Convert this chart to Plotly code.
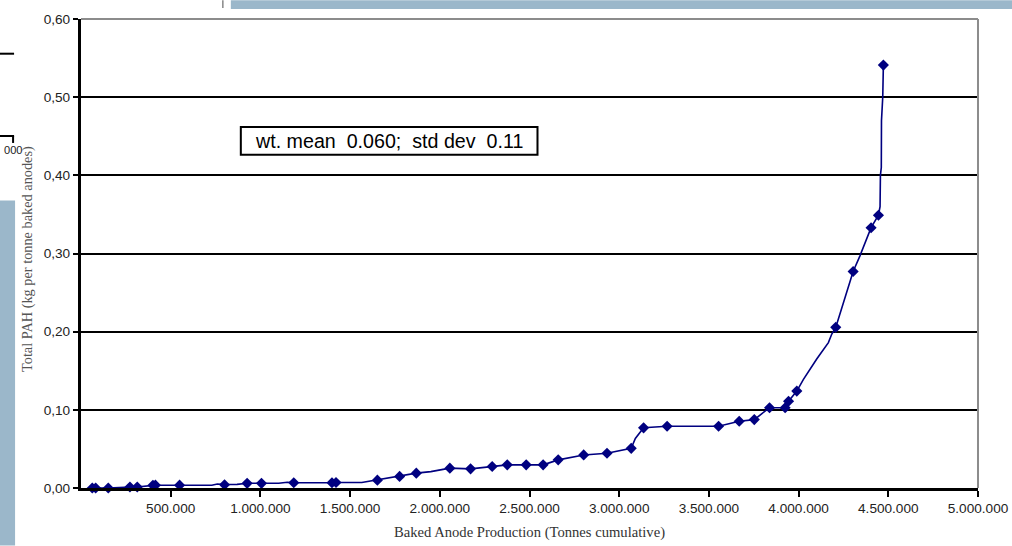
import plotly.graph_objects as go

# Cumulative baked anode production (tonnes) and total PAH (kg / tonne baked anodes)
# Measured plant values, shown as markers
prod_points = [62900, 81800, 152000, 272800, 313500, 400900, 414800, 549500,
               800100, 926000, 1006000, 1186000, 1399000, 1421500, 1652000,
               1776000, 1869000, 2056000, 2171500, 2292000, 2376000, 2481600,
               2576000, 2660000, 2802000, 2932000, 3067000, 3136000, 3267000,
               3554000, 3669000, 3753000, 3838000, 3925000, 3944000, 3990000,
               4207000, 4304000, 4404000, 4445000, 4472600]
pah_points = [0.0, 0.0, 0.0, 0.0013, 0.0013, 0.0034, 0.0036, 0.0036,
              0.0042, 0.0060, 0.0060, 0.0067, 0.0067, 0.0070, 0.0100,
              0.0148, 0.0190, 0.0254, 0.0245, 0.0275, 0.0296, 0.0296,
              0.0296, 0.0360, 0.0423, 0.0444, 0.0507, 0.0770, 0.0790,
              0.0790, 0.0854, 0.0875, 0.1027, 0.1027, 0.1110, 0.1240,
              0.2055, 0.2770, 0.3330, 0.3490, 0.5410]

# Full cumulative curve (includes the unmarked intermediate readings)
prod_curve = [62900, 81800, 152000, 272800, 313500, 400900, 414800, 549500,
              729000, 760000, 800100, 870000, 926000, 1006000, 1102000,
              1150000, 1186000, 1399000, 1421500, 1565000, 1643000, 1652000,
              1776000, 1869000, 1950000, 2010000, 2056000, 2171500, 2292000,
              2376000, 2481600, 2576000, 2660000, 2802000, 2932000, 3067000,
              3090000, 3136000, 3267000, 3554000, 3669000, 3753000, 3838000,
              3925000, 3944000, 3990000, 4027000, 4101000, 4166000, 4185000,
              4207000, 4232000, 4270000, 4304000, 4342000, 4375000, 4404000,
              4445000, 4454000, 4456000, 4461000, 4462000, 4469000, 4472600]
pah_curve = [0.0, 0.0, 0.0, 0.0013, 0.0013, 0.0034, 0.0036, 0.0036,
             0.0036, 0.0052, 0.0045, 0.0047, 0.0060, 0.0060, 0.0060,
             0.0074, 0.0067, 0.0067, 0.0070, 0.0070, 0.0100, 0.0100,
             0.0148, 0.0190, 0.0210, 0.0240, 0.0254, 0.0245, 0.0275,
             0.0296, 0.0296, 0.0296, 0.0360, 0.0423, 0.0444, 0.0507,
             0.0634, 0.0770, 0.0790, 0.0790, 0.0854, 0.0875, 0.1027,
             0.1027, 0.1110, 0.1240, 0.1390, 0.1650, 0.1860, 0.1970,
             0.2055, 0.2240, 0.2540, 0.2770, 0.2970, 0.3160, 0.3330,
             0.3490, 0.3600, 0.4000, 0.4100, 0.4700, 0.5000, 0.5410]

x_ticks = [500000, 1000000, 1500000, 2000000, 2500000, 3000000, 3500000,
           4000000, 4500000, 5000000]
y_ticks = [0.0, 0.1, 0.2, 0.3, 0.4, 0.5, 0.6]

stats_text = "wt.\u00a0mean\u00a0\u00a00.060;\u00a0\u00a0std\u00a0dev\u00a0\u00a00.11"

NAVY = "#000080"
SLIDE_BLUE = "#9bb7ca"

# overall size factor applied to every pixel dimension of the layout
S = 1.009
W, H = 1012, 546
# plot area in layout pixels (before scaling)
L, R, T, B = 80, 978, 17, 490


def px(x):
    return (x - L) / (R - L)


def py(y):
    return (B - y) / (B - T)


def s(v):
    return v * S


fig = go.Figure()
fig.add_trace(go.Scatter(
    x=prod_curve, y=pah_curve, mode="lines",
    line=dict(color=NAVY, width=s(1.6)), hoverinfo="skip", showlegend=False,
    cliponaxis=False,
))
fig.add_trace(go.Scatter(
    x=prod_points, y=pah_points, mode="markers",
    marker=dict(symbol="diamond", size=s(8.5), color=NAVY),
    showlegend=False, cliponaxis=False,
))

shapes = [
    # grey frame on top and right of the plot area
    dict(type="line", xref="paper", yref="paper", x0=0, x1=1, y0=1, y1=1,
         line=dict(color="#8c8c8c", width=s(2)), layer="above"),
    dict(type="line", xref="paper", yref="paper", x0=1, x1=1, y0=0, y1=1,
         line=dict(color="#8c8c8c", width=s(2)), layer="above"),
    # statistics box
    dict(type="rect", xref="paper", yref="paper",
         x0=px(240), x1=px(537), y0=py(154), y1=py(126),
         line=dict(color="black", width=s(2)), fillcolor="white", layer="above"),
    # slide background pieces around the chart
    dict(type="rect", xref="paper", yref="paper",
         x0=px(230), x1=px(1014), y0=py(7), y1=py(-2),
         line=dict(width=0), fillcolor=SLIDE_BLUE),
    dict(type="line", xref="paper", yref="paper",
         x0=px(222), x1=px(222), y0=py(6), y1=py(-2),
         line=dict(color="#888888", width=s(1.5))),
    dict(type="rect", xref="paper", yref="paper",
         x0=px(-2), x1=px(14), y0=py(548), y1=py(200),
         line=dict(width=0), fillcolor=SLIDE_BLUE),
    dict(type="line", xref="paper", yref="paper",
         x0=px(-2), x1=px(13), y0=py(52), y1=py(52),
         line=dict(color="black", width=s(2))),
    dict(type="line", xref="paper", yref="paper",
         x0=px(-2), x1=px(13), y0=py(135), y1=py(135),
         line=dict(color="black", width=s(2))),
    dict(type="line", xref="paper", yref="paper",
         x0=px(12), x1=px(12), y0=py(142), y1=py(135),
         line=dict(color="black", width=s(2))),
]

annotations = [
    dict(text=stats_text, xref="paper", yref="paper", x=px(388.5), y=py(140),
         xanchor="center", yanchor="middle", showarrow=False,
         font=dict(family="Liberation Sans, Arial", size=s(19.5), color="black")),
    dict(text="000", xref="paper", yref="paper", x=px(0.5), y=py(149),
         xanchor="left", yanchor="middle", showarrow=False,
         font=dict(family="Liberation Sans, Arial", size=s(11), color="#222222")),
    # y-axis title placed as rotated text
    dict(text="Total PAH (kg per tonne baked anodes)", xref="paper", yref="paper",
         x=px(27), y=py(259), xanchor="center", yanchor="middle",
         textangle=-90, showarrow=False,
         font=dict(family="Liberation Serif, Times New Roman", size=s(14.2),
                   color="#555555")),
]

tick_font = dict(family="Liberation Sans, Arial", size=s(13.5), color="#222222")
title_font = "Liberation Serif, Times New Roman"

fig.update_layout(
    width=round(W * S), height=round(H * S),
    margin=dict(l=s(L), r=round(W * S) - s(R), t=s(T), b=round(H * S) - s(B), pad=0),
    paper_bgcolor="white", plot_bgcolor="white",
    separators=",.",
    shapes=shapes, annotations=annotations,
    xaxis=dict(
        range=[0, 5000000], tickvals=x_ticks, tickformat=",d",
        showline=True, linecolor="black", linewidth=s(3),
        ticks="outside", ticklen=s(6), tickwidth=s(2), tickcolor="black",
        showgrid=False, zeroline=False, tickfont=tick_font,
        title=dict(text="Baked Anode Production (Tonnes cumulative)",
                   font=dict(family=title_font, size=s(14.5), color="#333333"),
                   standoff=s(12)),
    ),
    yaxis=dict(
        range=[0, 0.6], tickvals=y_ticks, tickformat=".2f",
        showline=True, linecolor="black", linewidth=s(3),
        ticks="outside", ticklen=s(5), tickwidth=s(2), tickcolor="black",
        showgrid=True, gridcolor="black", gridwidth=s(1.5), zeroline=False,
        tickfont=tick_font,
    ),
)

fig.write_html("out.html")
